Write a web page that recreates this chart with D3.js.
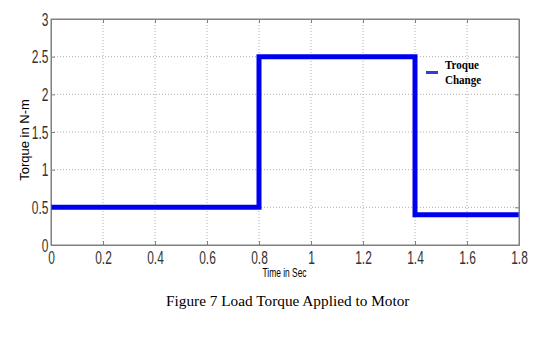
<!DOCTYPE html>
<html>
<head>
<meta charset="utf-8">
<script src="https://cdn.jsdelivr.net/npm/d3@7"></script>
<style>
  body { margin: 0; background: #fff; }
  svg { display: block; }
  .tick text { font-family: "Liberation Sans", Arial, sans-serif; }
</style>
</head>
<body>
<div id="chart"></div>
<script>
// step change points of the load torque
const times = [0, 0.8, 1.4, 1.8]
const torque = [0.5, 2.5, 0.4, 0.4]
const xTicks = [0, 0.2, 0.4, 0.6, 0.8, 1, 1.2, 1.4, 1.6, 1.8]
const yTicks = [0, 0.5, 1, 1.5, 2, 2.5, 3]

const width = 553, height = 362
const margin = {left: 51, top: 19, right: 34, bottom: 117}
const w = width - margin.left - margin.right,
    h = height - margin.top - margin.bottom

const svg = d3.select('#chart').append('svg')
    .attr('width', width)
    .attr('height', height)

const g = svg.append('g').attr('transform', `translate(${margin.left},${margin.top})`)

const x = d3.scaleLinear().domain([0, 1.8]).range([0, w])
const y = d3.scaleLinear().domain([0, 3]).range([h, 0])

// grid
g.append('g').selectAll('line')
    .data(xTicks.slice(1, -1))
    .enter().append('line')
    .attr('x1', d => x(d)).attr('x2', d => x(d))
    .attr('y1', 0).attr('y2', h)
    .attr('stroke', '#b0b0b0')
    .attr('stroke-dasharray', '1,2')

g.append('g').selectAll('line')
    .data(yTicks.slice(1, -1))
    .enter().append('line')
    .attr('x1', 0).attr('x2', w)
    .attr('y1', d => y(d)).attr('y2', d => y(d))
    .attr('stroke', '#b0b0b0')
    .attr('stroke-dasharray', '1,2')

// axes, ticks pointing inward like matlab
const fmt = d => String(d)
g.append('g')
    .attr('transform', `translate(0,${h})`)
    .call(d3.axisBottom(x).tickValues(xTicks).tickFormat(fmt).tickSizeInner(-4).tickSizeOuter(0).tickPadding(6))
g.append('g')
    .call(d3.axisLeft(y).tickValues(yTicks).tickFormat(fmt).tickSizeInner(-4).tickSizeOuter(0).tickPadding(4))
g.append('g')
    .call(d3.axisTop(x).tickValues(xTicks).tickFormat('').tickSizeInner(-4).tickSizeOuter(0))
g.append('g')
    .attr('transform', `translate(${w},0)`)
    .call(d3.axisRight(y).tickValues(yTicks).tickFormat('').tickSizeInner(-4).tickSizeOuter(0))

svg.selectAll('.domain, .tick line').attr('stroke', '#808080')
// narrow looking labels
svg.selectAll('.tick text')
    .style('font-size', '19px')
    .attr('fill', '#333')
    .attr('transform', 'scale(0.63,1)')

// line
const line = d3.line()
    .x((d, i) => x(times[i]))
    .y(d => y(d))
    .curve(d3.curveStepAfter)

g.append('path')
    .datum(torque)
    .attr('d', line)
    .attr('fill', 'none')
    .attr('stroke', '#0000f0')
    .attr('stroke-width', 5)

// box border
g.append('rect')
    .attr('width', w).attr('height', h)
    .attr('fill', 'none')
    .attr('stroke', '#808080')

// legend
const legend = svg.append('g').attr('transform', 'translate(426,72.5)')
legend.append('line')
    .attr('x1', 0).attr('x2', 12)
    .attr('stroke', '#3a3ad8')
    .attr('stroke-width', 3)
const legText = legend.append('g')
    .attr('transform', 'translate(19,0) scale(0.85,1)')
    .style('font-family', '"Liberation Serif", "Times New Roman", serif')
    .style('font-weight', 'bold')
    .style('font-size', '13px')
legText.append('text').attr('y', -4).text('Troque')
legText.append('text').attr('y', 12).text('Change')

// axis titles
svg.append('text')
    .attr('transform', `translate(29,140) rotate(-90)`)
    .attr('text-anchor', 'middle')
    .style('font-family', '"Liberation Sans", Arial, sans-serif')
    .style('font-size', '13px')
    .text('Torque in N-m')

svg.append('text')
    .attr('transform', 'translate(284.5,277) scale(0.7,1)')
    .attr('text-anchor', 'middle')
    .style('font-family', '"Liberation Sans", Arial, sans-serif')
    .style('font-size', '12px')
    .text('Time in Sec')

// caption
svg.append('text')
    .attr('x', 166).attr('y', 306)
    .style('font-family', '"Liberation Serif", "Times New Roman", serif')
    .style('font-size', '15.3px')
    .text('Figure 7 Load Torque Applied to Motor')
</script>
</body>
</html>
